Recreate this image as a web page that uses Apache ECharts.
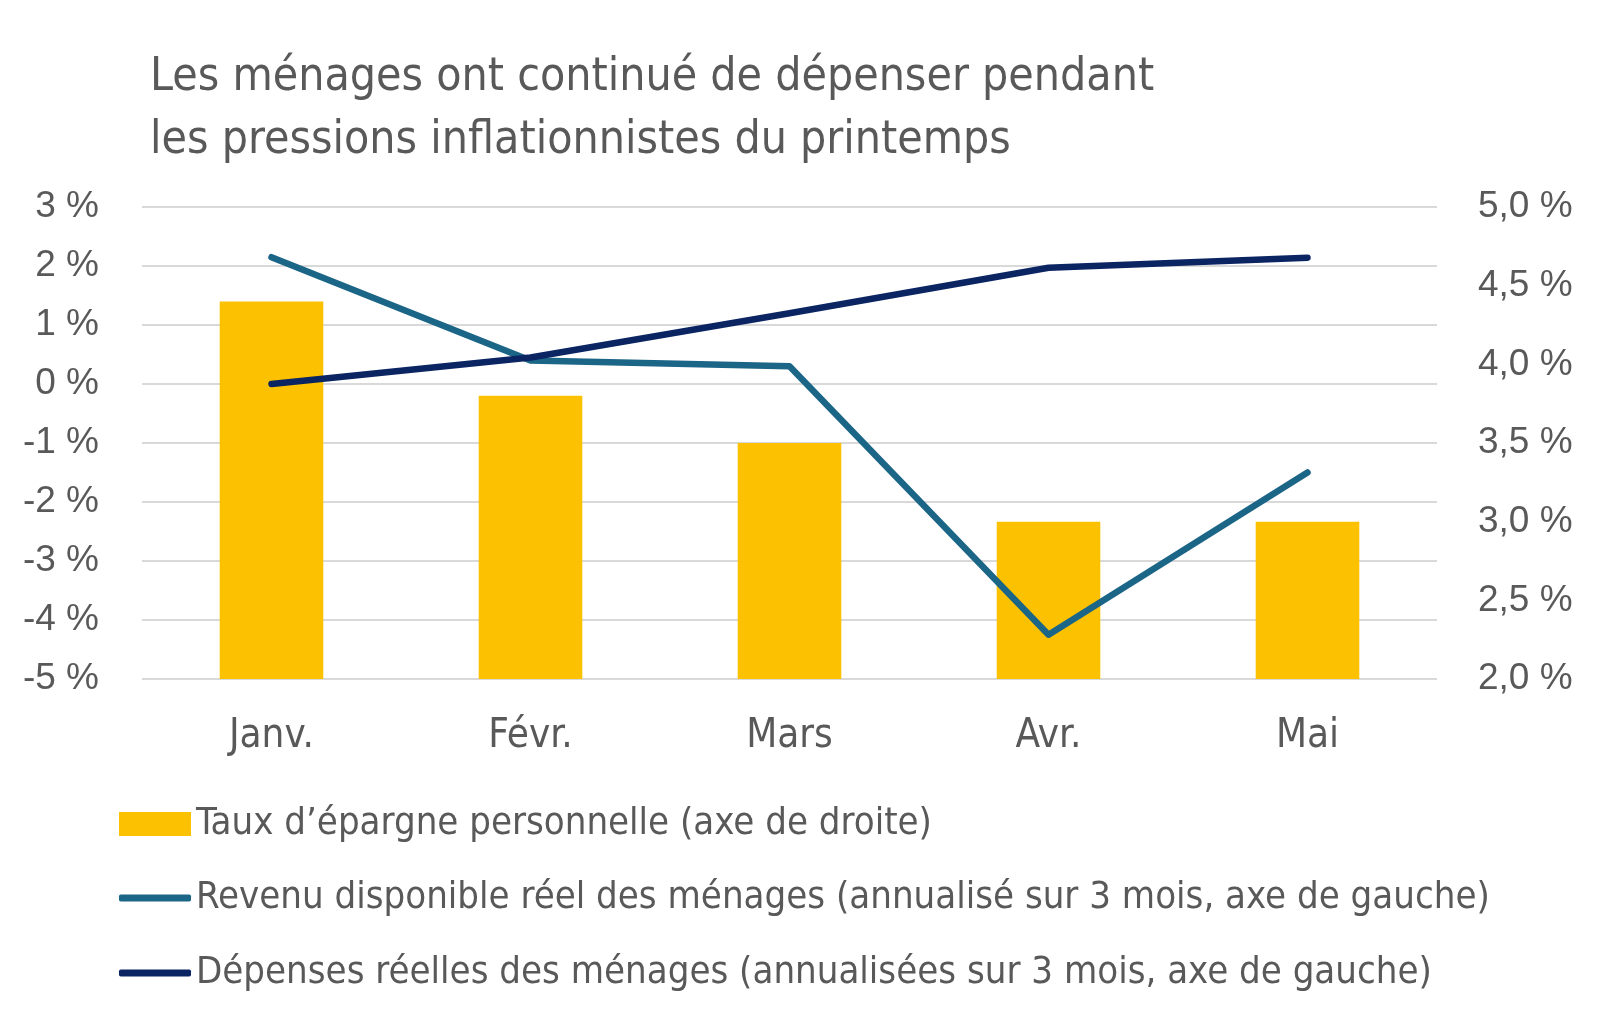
<!DOCTYPE html>
<html>
<head>
<meta charset="utf-8">
<script src="https://cdn.jsdelivr.net/npm/echarts@6/dist/echarts.min.js"></script>
<style>
  html, body { margin: 0; padding: 0; background: #fff; }
  #chart { width: 1600px; height: 1027px; }
</style>
</head>
<body>
<div id="chart"></div>
<script>
// données
const mois = ['Janv.', 'Févr.', 'Mars', 'Avr.', 'Mai'];
const epargne = [4.4, 3.8, 3.5, 3.0, 3.0];          // axe de droite
const revenu = [2.15, 0.4, 0.3, -4.25, -1.5];       // axe de gauche
const depenses = [0.0, 0.45, 1.2, 1.97, 2.14];      // axe de gauche

const nomEpargne = 'Taux d’épargne personnelle (axe de droite)';
const nomRevenu = 'Revenu disponible réel des ménages (annualisé sur 3 mois, axe de gauche)';
const nomDepenses = 'Dépenses réelles des ménages (annualisées sur 3 mois, axe de gauche)';

const narrow = '"Liberation Sans Narrow", "DejaVu Sans Condensed", sans-serif';
const grey = '#595959';

const chart = echarts.init(document.getElementById('chart'));

const legendBase = {
  left: 114,
  itemWidth: 72,
  textStyle: { color: grey, fontFamily: narrow, fontSize: 38 },
  selectedMode: false,
};

const option = {
  backgroundColor: '#fff',
  animation: false,
  title: {
    text: 'Les ménages ont continué de dépenser pendant\nles pressions inflationnistes du printemps',
    left: 150,
    top: 47,
    padding: 0,
    textStyle: { color: grey, fontFamily: narrow, fontSize: 46, fontWeight: 'normal', lineHeight: 63 },
  },
  legend: [
    { ...legendBase, top: 800, itemHeight: 24, icon: 'rect', data: [nomEpargne] },
    { ...legendBase, top: 874, itemHeight: 7, icon: 'roundRect', data: [nomRevenu] },
    { ...legendBase, top: 949, itemHeight: 7, icon: 'roundRect', data: [nomDepenses] },
  ],
  grid: { left: 142, right: 163, top: 207, bottom: 348 },
  xAxis: {
    type: 'category',
    data: mois,
    axisLine: { show: false },
    axisTick: { show: false },
    axisLabel: { color: grey, fontFamily: narrow, fontSize: 40, margin: 38 },
  },
  yAxis: [
    {
      type: 'value',
      min: -5, max: 3, interval: 1,
      axisLabel: {
        color: grey, fontFamily: '"Liberation Sans", Arial, sans-serif', fontSize: 37, margin: 43,
        formatter: (v) => v + ' %',
      },
      splitLine: { lineStyle: { color: '#d9d9d9', width: 2 } },
      axisLine: { show: false },
      axisTick: { show: false },
    },
    {
      type: 'value',
      min: 2, max: 5, interval: 0.5,
      position: 'right',
      axisLabel: {
        color: grey, fontFamily: '"Liberation Sans", Arial, sans-serif', fontSize: 37, margin: 41,
        formatter: (v) => v.toFixed(1).replace('.', ',') + ' %',
      },
      splitLine: { show: false },
      axisLine: { show: false },
      axisTick: { show: false },
    },
  ],
  series: [
    {
      name: nomEpargne,
      type: 'bar',
      yAxisIndex: 1,
      data: epargne,
      barWidth: '40%',
      itemStyle: { color: '#FCC100' },
    },
    {
      name: nomRevenu,
      type: 'line',
      yAxisIndex: 0,
      data: revenu,
      symbol: 'none',
      lineStyle: { color: '#1B6587', width: 6.5, cap: 'round', join: 'round' },
      itemStyle: { color: '#1B6587' },
    },
    {
      name: nomDepenses,
      type: 'line',
      yAxisIndex: 0,
      data: depenses,
      symbol: 'none',
      lineStyle: { color: '#0B2462', width: 6.5, cap: 'round', join: 'round' },
      itemStyle: { color: '#0B2462' },
    },
  ],
};

chart.setOption(option);
</script>
</body>
</html>
